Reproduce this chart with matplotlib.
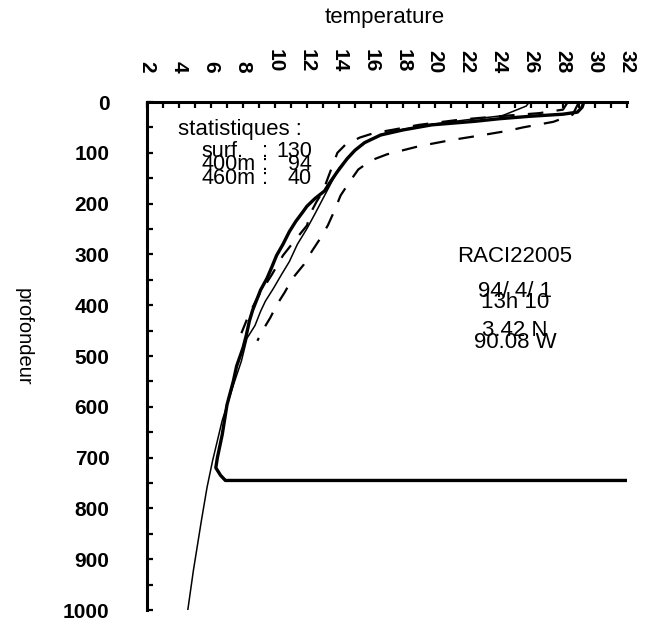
import matplotlib
matplotlib.use('Agg')
import matplotlib.pyplot as plt
from matplotlib.ticker import MultipleLocator

plt.rcParams['font.family'] = ['Liberation Sans', 'DejaVu Sans']

# XBT profile (thick line): depth (m) / temperature (deg C)
xbt_depth = [0, 10, 20, 24, 28, 33, 38, 45, 55, 65, 80, 95, 112, 137, 160, 175,
             190, 205, 216, 235, 255, 280, 302, 325, 347, 370, 386, 410, 431,
             460, 484, 520, 549, 596, 655, 700, 720, 735, 745, 745]
xbt_temp = [29.3, 29.2, 28.9, 28.0, 26.0, 24.0, 22.5, 19.8, 18.0, 16.6, 15.6,
            15.0, 14.5, 13.9, 13.4, 13.1, 12.5, 12.0, 11.75, 11.3, 10.9, 10.5,
            10.1, 9.8, 9.5, 9.1, 8.9, 8.6, 8.4, 8.2, 8.0, 7.6, 7.4, 7.0, 6.7,
            6.4, 6.3, 6.6, 6.9, 32.0]

# climatological mean (thin line)
clim_depth = [0, 8, 27, 35, 45, 60, 80, 100, 130, 160, 190, 220, 249, 280, 314,
              340, 367, 392, 412, 440, 465, 510, 557, 627, 706, 759, 824, 922,
              1000]
clim_temp = [25.9, 25.7, 24.2, 22.0, 19.5, 17.0, 15.6, 14.8, 14.0, 13.5, 13.0,
             12.5, 12.0, 11.4, 10.9, 10.4, 9.9, 9.4, 9.1, 8.75, 8.25, 7.9, 7.4,
             6.7, 6.1, 5.75, 5.4, 4.9, 4.55]

# mean + standard deviation (warm dashed)
warm_depth = [0, 25, 39, 50, 57, 66, 75, 87, 103, 115, 133, 160, 184, 215, 243,
              270, 294, 320, 347, 375, 400, 425, 451, 470]
warm_temp = [29.0, 28.6, 27.4, 25.5, 24.5, 22.8, 21.0, 19.0, 17.0, 16.0, 15.2,
             14.6, 14.1, 13.7, 13.3, 12.8, 12.3, 11.8, 11.1, 10.6, 10.1, 9.7,
             9.2, 8.9]

# mean - standard deviation (cold dashed)
cold_depth = [0, 15, 22, 28, 35, 45, 55, 61, 70, 84, 100, 125, 150, 176, 196,
              220, 243, 270, 302, 340, 380, 416, 455]
cold_temp = [28.3, 28.0, 26.5, 24.0, 21.5, 19.0, 17.3, 16.2, 15.3, 14.4, 13.9,
             13.6, 13.3, 13.0, 12.6, 12.2, 12.0, 11.3, 10.5, 9.8, 9.0, 8.4, 7.9]

stat_labels = ['surf.', '400m', '460m']
stat_counts = [130, 94, 40]
station_info = ['RACI22005', '94/ 4/ 1', '13h 10', '3.42 N', '90.08 W']

fig = plt.figure(figsize=(6.55, 6.33), dpi=100)
ax = fig.add_axes([147 / 655, 1 - 610 / 633, 480 / 655, 508 / 633])

ax.plot(clim_temp, clim_depth, color='black', lw=1.1)
ax.plot(warm_temp, warm_depth, color='black', lw=1.6, linestyle=(0, (7, 6)))
ax.plot(cold_temp, cold_depth, color='black', lw=1.6, linestyle=(0, (7, 6)))
ax.plot(xbt_temp, xbt_depth, color='black', lw=2.4, solid_joinstyle='round')

ax.set_xlim(2, 32)
ax.set_ylim(1000, 0)

for side in ['right', 'bottom']:
    ax.spines[side].set_visible(False)
for side in ['left', 'top']:
    ax.spines[side].set_linewidth(2.2)

ax.xaxis.tick_top()
ax.xaxis.set_major_locator(MultipleLocator(2))
ax.xaxis.set_minor_locator(MultipleLocator(1))
ax.yaxis.set_major_locator(MultipleLocator(100))
ax.yaxis.set_minor_locator(MultipleLocator(50))
ax.tick_params(axis='x', which='both', direction='in', length=4, width=1.6,
               top=True, bottom=False, labeltop=True, labelbottom=False)
ax.tick_params(axis='x', which='major', pad=21, labelrotation=-90, labelsize=15)
ax.tick_params(axis='y', which='both', direction='in', length=4, width=1.6,
               left=True, right=False)
ax.tick_params(axis='y', which='major', pad=27, labelsize=15)
for lab in ax.get_xticklabels() + ax.get_yticklabels():
    lab.set_fontweight('bold')

fig.text(385 / 655, 1 - 18 / 633, 'temperature', ha='center', va='center',
         fontsize=16)
fig.text(23 / 655, 1 - 337 / 633, 'profondeur', ha='center', va='center',
         fontsize=14.5, rotation=-90)

# statistics block
ax.text(3.94, 55, 'statistiques :', ha='left', va='center', fontsize=16)
for i, (lab, n) in enumerate(zip(stat_labels, stat_counts)):
    y = 98 + 26 * i
    ax.text(5.4, y, lab, ha='left', va='center', fontsize=15.5)
    ax.text(9.4, y, ':', ha='center', va='center', fontsize=15.5)
    ax.text(12.3, y, str(n), ha='right', va='center', fontsize=15.5)

# station header
info_y = [305, 374, 394, 449, 474]
for txt, y in zip(station_info, info_y):
    ax.text(25.0, y, txt, ha='center', va='center', fontsize=16)

fig.savefig('out.png', dpi=100)
